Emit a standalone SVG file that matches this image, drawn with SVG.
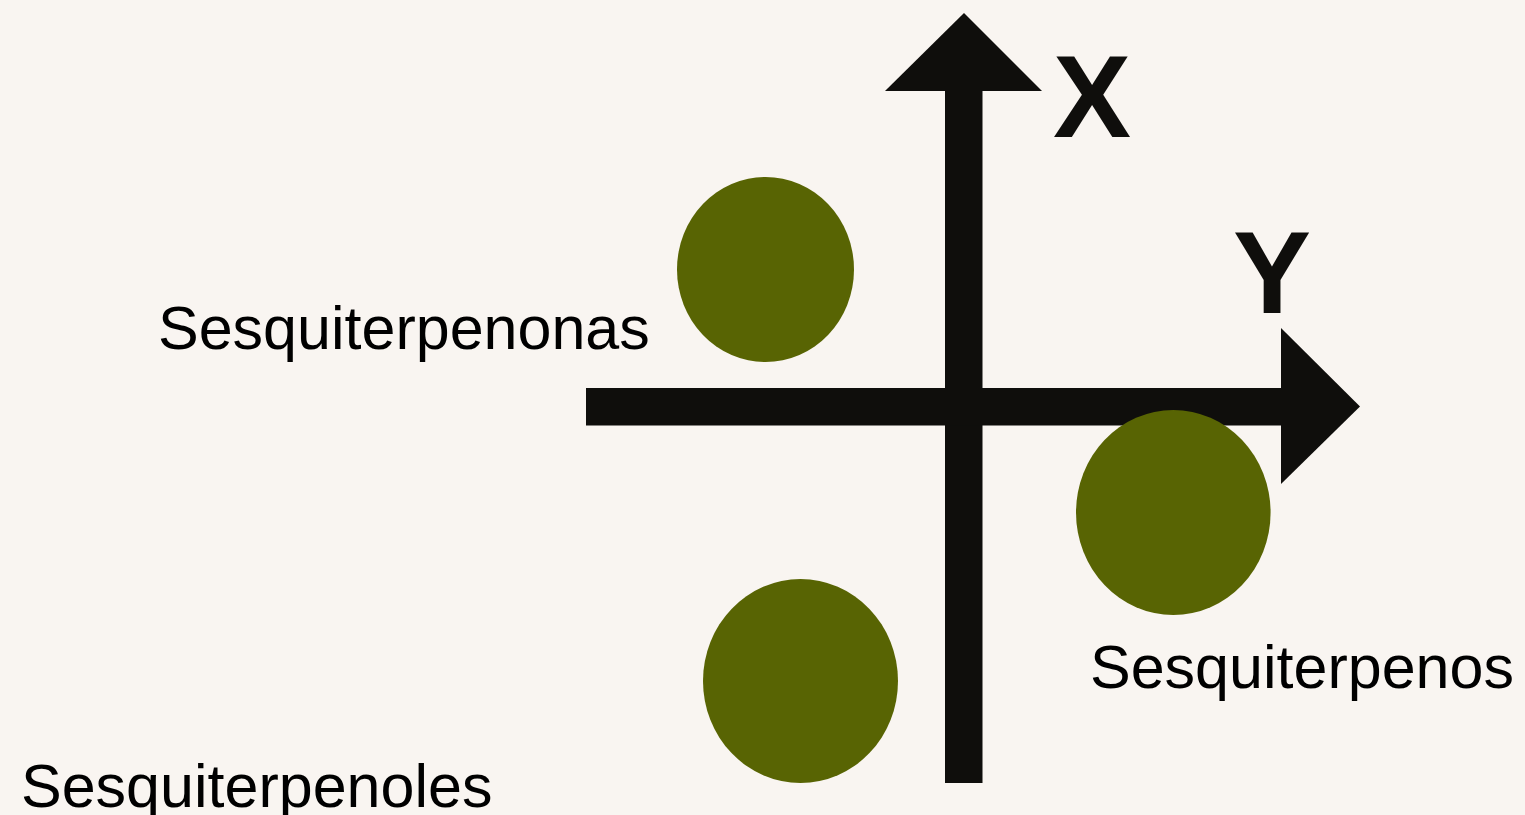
<svg xmlns="http://www.w3.org/2000/svg" width="1525" height="815" viewBox="0 0 1525 815">
<style>
.ax{fill:#0f0e0c}
.dot{fill:#586403}
.lbl{font-family:"Liberation Sans",Arial,sans-serif;font-size:61px;fill:#000}
.axl{font-family:"Liberation Sans",Arial,sans-serif;font-size:117px;font-weight:bold;fill:#0f0e0c}
</style>
<rect width="1525" height="815" fill="#f9f5f1"/>
<g id="connectors">
<g id="axis-x">
<rect class="ax" x="945" y="90" width="37.5" height="693"/>
<polygon class="ax" points="885,91 1042,91 964,13"/>
</g>
<g id="axis-y">
<rect class="ax" x="586" y="388" width="697" height="37.5"/>
<polygon class="ax" points="1281,328 1281,484 1360,406.5"/>
</g>
</g>
<g id="label-x"><text class="axl" x="1053" y="137">X</text></g>
<g id="label-y"><text class="axl" x="1233" y="313">Y</text></g>
<g id="node-sesquiterpenonas">
<ellipse class="dot" cx="765.5" cy="269.5" rx="88.5" ry="92.5"/>
<text class="lbl" x="158" y="349">Sesquiterpenonas</text>
</g>
<g id="node-sesquiterpenos">
<ellipse class="dot" cx="1173.3" cy="512.5" rx="97.3" ry="102.5"/>
<text class="lbl" x="1090" y="688">Sesquiterpenos</text>
</g>
<g id="node-sesquiterpenoles">
<ellipse class="dot" cx="800.5" cy="681" rx="97.5" ry="102"/>
<text class="lbl" x="21" y="807">Sesquiterpenoles</text>
</g>
</svg>
